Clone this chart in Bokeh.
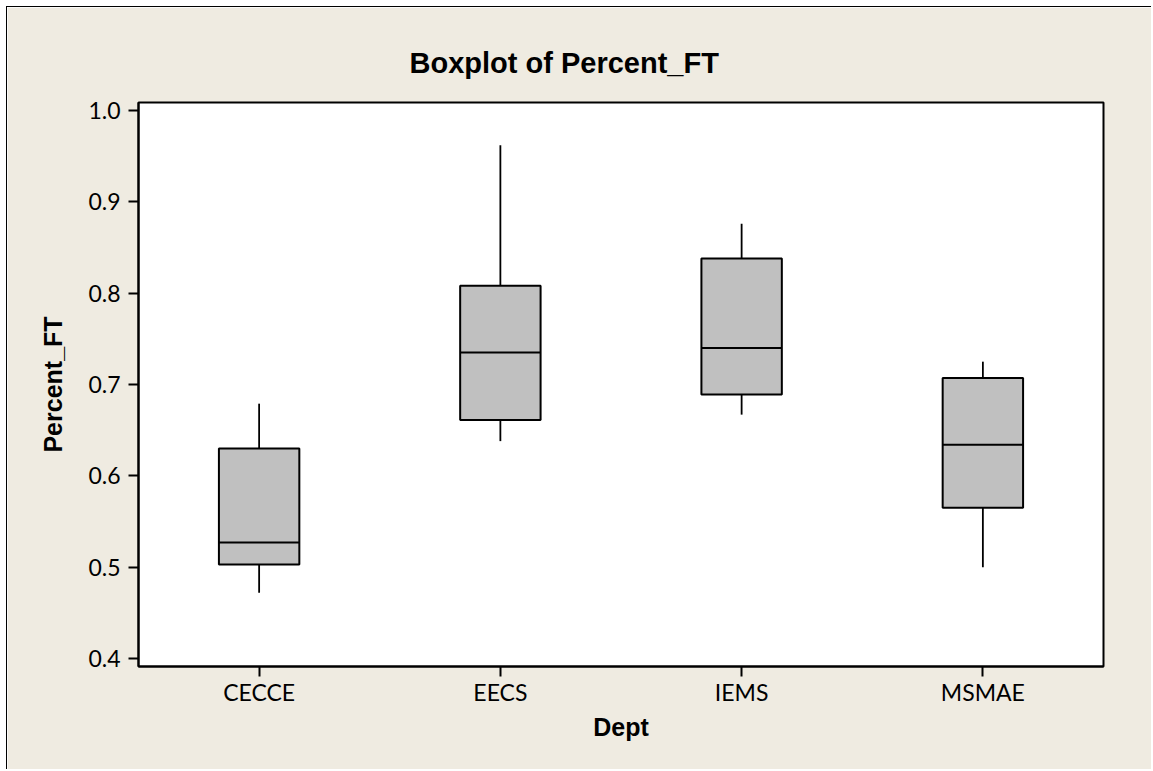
from bokeh.plotting import figure
from bokeh.models import FactorRange, Range1d, FixedTicker, Title, ColumnDataSource, NumeralTickFormatter
from bokeh.transform import dodge
from bokeh.embed import file_html
from bokeh.resources import INLINE

# ---- data ----
depts = ["CECCE", "EECS", "IEMS", "MSMAE"]
q_min = [0.472, 0.638, 0.667, 0.500]
q1 = [0.503, 0.661, 0.689, 0.565]
median = [0.527, 0.735, 0.740, 0.634]
q3 = [0.630, 0.808, 0.838, 0.707]
q_max = [0.679, 0.962, 0.876, 0.725]
y_ticks = [0.4, 0.5, 0.6, 0.7, 0.8, 0.9, 1.0]
title_text = "Boxplot of Percent_FT"
x_label = "Dept"
y_label = "Percent_FT"

BEIGE = "#EFEBE1"
BOX = "#C0C0C0"

src = ColumnDataSource(dict(dept=depts, q_min=q_min, q1=q1, median=median, q3=q3, q_max=q_max))

p = figure(width=1145, height=763,
           x_range=FactorRange(*depts), y_range=Range1d(0.3912, 1.0088),
           output_backend="svg", toolbar_location=None,
           min_border_left=131, min_border_right=49, min_border_top=95, min_border_bottom=104,
           background_fill_color="white", border_fill_color=BEIGE,
           styles={"border-left": "1px solid black", "border-top": "1px solid black",
                   "margin-left": "6px", "margin-top": "6px"})

p.title = Title(text=title_text, align="left", offset=271,
                text_font="Liberation Sans", text_font_size="29px", text_font_style="bold",
                text_color="black", standoff=48)

# whiskers
p.segment(x0="dept", y0="q3", x1="dept", y1="q_max", source=src, line_color="black", line_width=1.8)
p.segment(x0="dept", y0="q1", x1="dept", y1="q_min", source=src, line_color="black", line_width=1.8)
# boxes
p.vbar(x="dept", width=1/3, top="q3", bottom="q1", source=src,
       fill_color=BOX, line_color="black", line_width=2)
# medians
p.segment(x0=dodge("dept", -1/6, range=p.x_range), x1=dodge("dept", 1/6, range=p.x_range),
          y0="median", y1="median", source=src, line_color="black", line_width=2)

p.grid.visible = False
p.outline_line_color = "black"
p.outline_line_width = 2

p.yaxis.ticker = FixedTicker(ticks=y_ticks)
p.yaxis.formatter = NumeralTickFormatter(format="0.0")

for ax in (p.xaxis[0], p.yaxis[0]):
    ax.axis_line_color = "black"
    ax.axis_line_width = 2
    ax.major_tick_in = 0
    ax.major_tick_out = 10
    ax.major_tick_line_width = 2
    ax.major_tick_line_color = "black"
    ax.minor_tick_line_color = None
    ax.major_label_text_font = "Lato"
    ax.major_label_text_font_size = "23px"
    ax.major_label_text_color = "black"
    ax.axis_label_text_font = "Liberation Sans"
    ax.axis_label_text_font_size = "25px"
    ax.axis_label_text_font_style = "bold"
    ax.axis_label_text_color = "black"

p.xaxis.axis_label = x_label
p.yaxis.axis_label = y_label
p.xaxis.major_label_standoff = 1
p.xaxis.axis_label_standoff = 4
p.yaxis.major_label_standoff = 8
p.yaxis.axis_label_standoff = 18

open("out.html", "w").write(file_html(p, INLINE))
